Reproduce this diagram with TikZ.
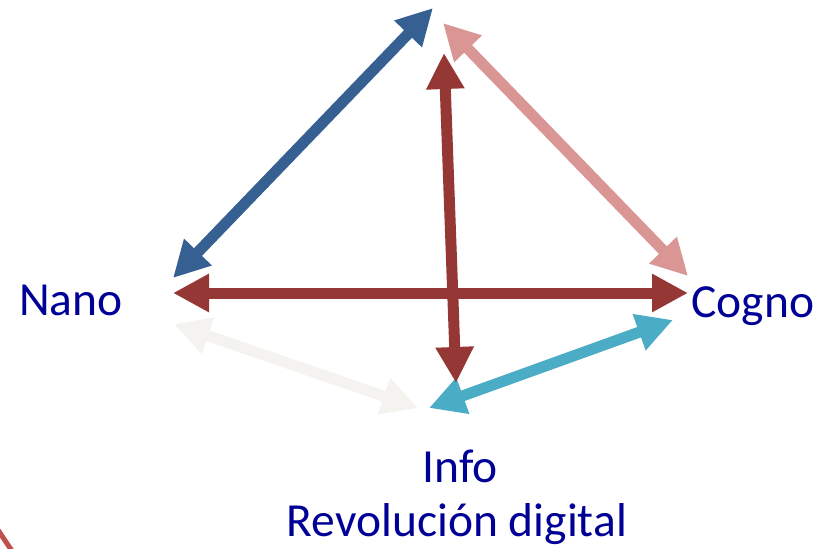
\documentclass[tikz,border=0pt]{standalone}
\usepackage{fontspec}
\setmainfont{Carlito}
\usetikzlibrary{arrows.meta}
\definecolor{abl}{HTML}{376092}
\definecolor{apk}{HTML}{D99694}
\definecolor{ard}{HTML}{953735}
\definecolor{agr}{HTML}{F4F3EF}
\definecolor{acy}{HTML}{4BACC6}
\definecolor{txt}{RGB}{0,0,150}
\definecolor{crv}{HTML}{C0504D}
\tikzset{
  dbl/.style={line width=11pt, {Triangle[length=36pt,width=36pt]}-{Triangle[length=36pt,width=36pt]}},
  lbl/.style={text=txt, font=\fontsize{47.5}{57}\selectfont, inner sep=0pt, anchor=base}
}
\begin{document}
\begin{tikzpicture}[x=1pt,y=-1pt]
\useasboundingbox (0,0) rectangle (823,549);
\fill[white] (0,0) rectangle (823,549);
% coordinates
\coordinate (b1) at (173,278);
\coordinate (b2) at (433,8);
\coordinate (p1) at (443,23);
\coordinate (p2) at (688,276);
\coordinate (v1) at (444,53);
\coordinate (v2) at (456,383);
\coordinate (h1) at (173,293);
\coordinate (h2) at (688,293);
\coordinate (g1) at (174,324);
\coordinate (g2) at (418,408);
\coordinate (c1) at (429,408);
\coordinate (c2) at (673,320);
\coordinate (r1) at (-2,530);
\coordinate (r2) at (12,551);
% arrows
\draw[dbl, agr] (g1) -- (g2);
\draw[dbl, acy] (c1) -- (c2);
\draw[dbl, abl] (b1) -- (b2);
\draw[dbl, apk] (p1) -- (p2);
\draw[dbl, ard] (h1) -- (h2);
\draw[dbl, ard] (v1) -- (v2);
\draw[crv, line width=5pt] (r1) -- (r2);
% labels
\node[lbl] (nano) at (71,315) {Nano};
\node[lbl] (cogno) at (753,317) {Cogno};
\node[lbl] (info) at (460,482) {Info};
\node[lbl] (rev) at (457,536) {Revolución digital};
\end{tikzpicture}
\end{document}
